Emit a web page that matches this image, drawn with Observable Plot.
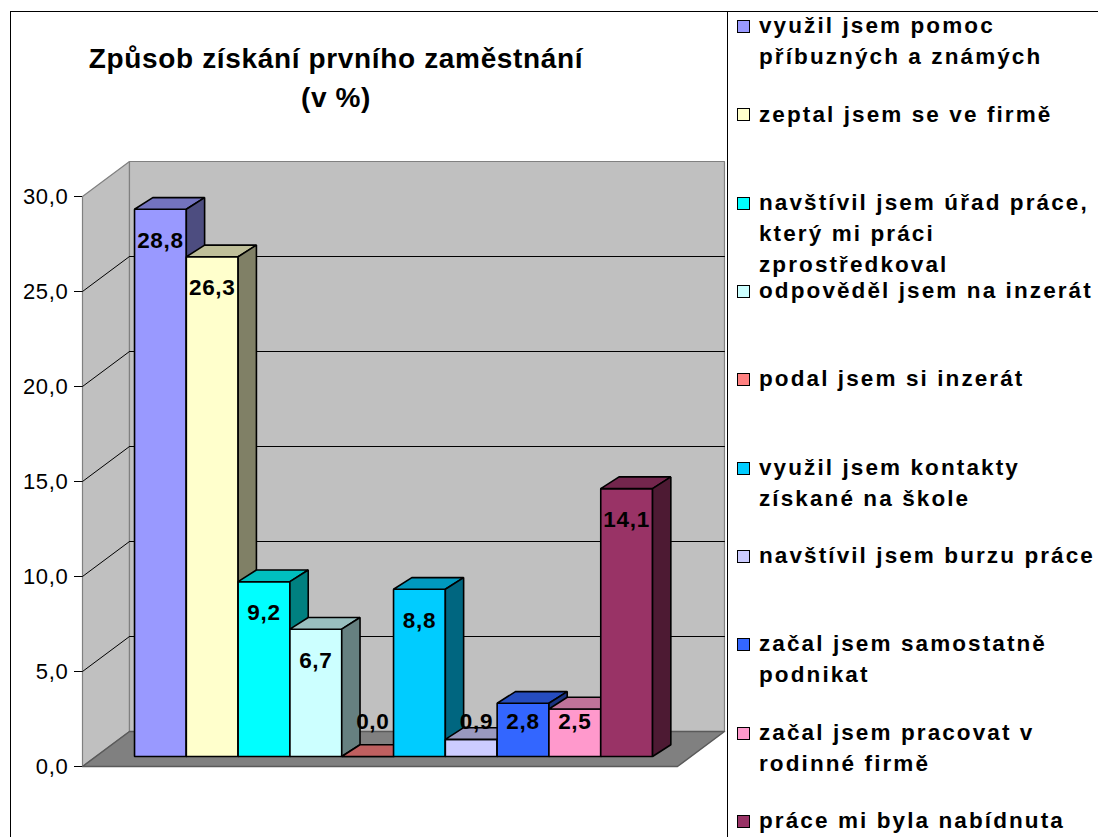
<!DOCTYPE html>
<html><head><meta charset="utf-8">
<script src="https://cdn.jsdelivr.net/npm/d3@7"></script>
<script src="https://cdn.jsdelivr.net/npm/@observablehq/plot@0.6"></script>
<style>
html,body{margin:0;padding:0;background:#fff;overflow:hidden}
#wrap{position:relative;width:1098px;height:837px;font-family:"Liberation Sans",Arial,sans-serif;overflow:hidden;color:#000}
#wrap svg{position:absolute;left:0;top:0}
#wrap svg text{letter-spacing:0.7px}
#frame{position:absolute;left:10px;top:11px;width:2000px;height:2000px;border-left:1.5px solid #000;border-top:1.5px solid #000}
#legsep{position:absolute;left:727px;top:11px;width:0;height:900px;border-left:1.5px solid #000}
.title{position:absolute;font-weight:bold;font-size:28px;line-height:32px;letter-spacing:0.65px;white-space:nowrap;transform:translateX(-50%)}
.sw{position:absolute;left:737px;width:13px;height:13px;box-sizing:border-box;border:1.5px solid #000}
.lt{position:absolute;left:759px;font-weight:bold;font-size:22.5px;line-height:31px;letter-spacing:2.1px;white-space:pre}
</style></head>
<body><div id="wrap"><div id="frame"></div><div id="legsep"></div></div>
<script>
// ---- data ----
const categories = [
  "využil jsem pomoc\npříbuzných a známých",
  "zeptal jsem se ve firmě",
  "navštívil jsem úřad práce,\nkterý mi práci\nzprostředkoval",
  "odpověděl jsem na inzerát",
  "podal jsem si inzerát",
  "využil jsem kontakty\nzískané na škole",
  "navštívil jsem burzu práce",
  "začal jsem samostatně\npodnikat",
  "začal jsem pracovat v\nrodinné firmě",
  "práce mi byla nabídnuta"
];
const values = [28.8, 26.3, 9.2, 6.7, 0.0, 8.8, 0.9, 2.8, 2.5, 14.1];
const colors = ["#9999FF","#FFFFCC","#00FFFF","#CCFFFF","#FF8080","#00CCFF","#CCCCFF","#3366FF","#FF99CC","#993366"];
const yTicks = [0, 5, 10, 15, 20, 25, 30];
const titleLines = ["Způsob získání prvního zaměstnání", "(v %)"];

// ---- 3D projection parameters (in data units) ----
const n = values.length;
const XL = -0.745, XR = n + 0.741;      // floor front edge extent
const YMAX = 30;
const DX = 0.907, DY = 1.842;           // full depth of the plot box
const z0 = 0.286;                        // bar front face depth
const BX = 0.353, BY = 0.616;            // bar depth
const shade = (c, k) => { const r = d3.rgb(c); return d3.rgb(r.r*k, r.g*k, r.b*k).formatHex(); };

const walls = [];
const addPoly = (arr, id, pts, fill) => pts.forEach(([x, y]) => arr.push({id, x, y, fill}));
addPoly(walls, "left", [[XL,0],[XL+DX,DY],[XL+DX,YMAX+DY],[XL,YMAX]], "#C0C0C0");
addPoly(walls, "back", [[XL+DX,DY],[XR+DX,DY],[XR+DX,YMAX+DY],[XL+DX,YMAX+DY]], "#C0C0C0");
const floor = [];
addPoly(floor, "floor", [[XL,0],[XR,0],[XR+DX,DY],[XL+DX,DY]], "#808080");

const grid = [];
yTicks.filter(t => t > 0 && t < YMAX).forEach(t => {
  grid.push({id:"b"+t, x:XL+DX, y:t+DY}, {id:"b"+t, x:XR+DX, y:t+DY});
  grid.push({id:"l"+t, x:XL, y:t}, {id:"l"+t, x:XL+DX, y:t+DY});
});

const bars = [];
values.forEach((v, i) => {
  const fx = i + z0*DX, fy = z0*DY;
  const c = colors[i];
  addPoly(bars, "f"+i, [[fx,fy],[fx+1,fy],[fx+1,fy+v],[fx,fy+v]], c);
  addPoly(bars, "t"+i, [[fx,fy+v],[fx+1,fy+v],[fx+1+BX,fy+v+BY],[fx+BX,fy+v+BY]], shade(c, 0.75));
  addPoly(bars, "s"+i, [[fx+1,fy],[fx+1+BX,fy+BY],[fx+1+BX,fy+v+BY],[fx+1,fy+v]], shade(c, 0.5));
});

const labels = values.map((v, i) => ({
  x: i + 0.5 + z0*DX + (v < 1 ? 0.1 : 0),
  y: Math.max(v - 1.65, 1.8) + z0*DY,
  text: v.toFixed(1).replace(".", ",")
}));

const chart = Plot.plot({
  width: 1098, height: 837,
  marginLeft: 82, marginRight: 421, marginTop: 196, marginBottom: 71,
  x: {domain: [XL, XR], axis: null},
  y: {domain: [0, YMAX], label: null},
  color: {type: "identity"},
  style: {fontFamily: '"Liberation Sans", Arial, sans-serif', fontSize: "22px", color: "#000", background: "transparent"},
  marks: [
    Plot.line(walls, {x:"x", y:"y", z:"id", fill:"fill", stroke:"#808080", strokeWidth:1.2, curve:"linear-closed"}),
    Plot.line(floor, {x:"x", y:"y", z:"id", fill:"fill", stroke:"#5a5a5a", strokeWidth:1.5, curve:"linear-closed"}),
    Plot.line(grid, {x:"x", y:"y", z:"id", stroke:"#000", strokeWidth:1}),
    Plot.line(bars, {x:"x", y:"y", z:"id", fill:"fill", stroke:"#000", strokeWidth:1.6, curve:"linear-closed", strokeLinejoin:"miter"}),
    Plot.axisY({ticks: yTicks, tickSize: 8, tickPadding: 6, label: null, fontSize: 22,
      tickFormat: d => d.toFixed(1).replace(".", ",")}),
    Plot.text(labels, {x:"x", y:"y", text:"text", fontWeight:"bold", fontSize:22.5, fill:"#000"})
  ]
});
const wrap = document.getElementById("wrap");
wrap.appendChild(chart);

// title
[[68, titleLines[0]], [107, titleLines[1]]].forEach(([base, t]) => {
  const d = document.createElement("div");
  d.className = "title"; d.textContent = t;
  d.style.left = "336px"; d.style.top = (base - 25.3) + "px";
  wrap.appendChild(d);
});

// legend
categories.forEach((name, i) => {
  const cy = 26.6 + 88.3 * i;
  const s = document.createElement("div");
  s.className = "sw"; s.style.top = (cy - 6.5) + "px"; s.style.background = colors[i];
  wrap.appendChild(s);
  const t = document.createElement("div");
  t.className = "lt"; t.textContent = name; t.style.top = (cy + 7 - 23.4) + "px";
  wrap.appendChild(t);
});
</script></body></html>
